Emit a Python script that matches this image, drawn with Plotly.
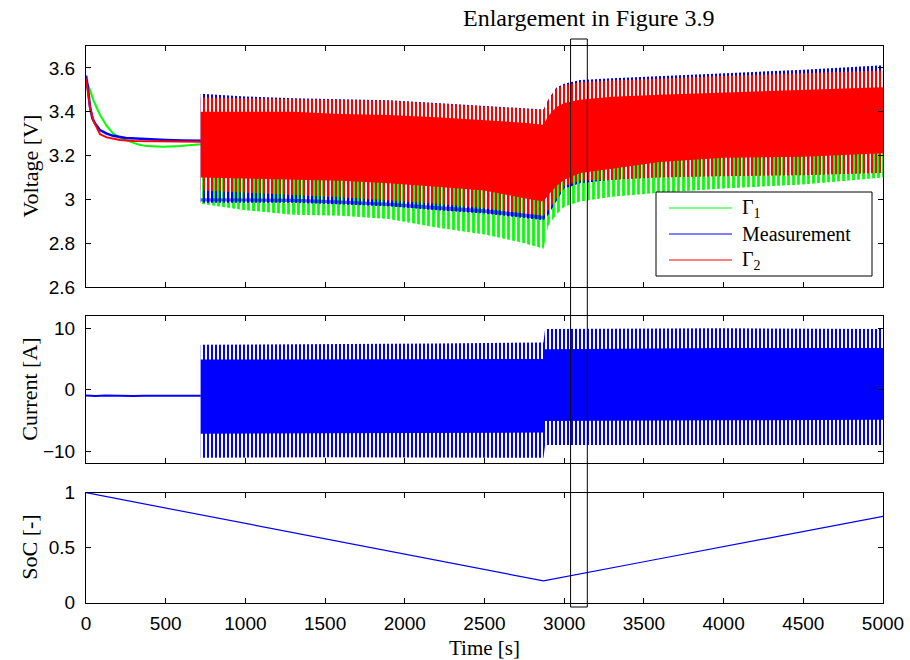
import plotly.graph_objects as go

# ---------------- data ----------------
# Rest phase voltage (0-720 s)
rest_t_g1 = [0, 25, 46, 88, 130, 171, 220, 276, 330, 380, 485, 590, 660, 720]
rest_v_g1 = [3.54, 3.50, 3.453, 3.385, 3.335, 3.30, 3.278, 3.263, 3.25, 3.243, 3.24, 3.243, 3.248, 3.252]
rest_t_meas = [0, 10, 25, 40, 56, 88, 130, 170, 250, 380, 500, 600, 694, 720]
rest_v_meas = [3.565, 3.52, 3.423, 3.37, 3.347, 3.316, 3.30, 3.29, 3.28, 3.274, 3.271, 3.269, 3.268, 3.268]
rest_t_g2 = [0, 10, 25, 46, 88, 130, 170, 213, 300, 450, 600, 720]
rest_v_g2 = [3.552, 3.50, 3.42, 3.36, 3.297, 3.283, 3.276, 3.271, 3.266, 3.264, 3.263, 3.263]

# Oscillating phase (720-5000 s): envelopes at knot times
osc_t = [720, 1000, 1300, 1600, 1900, 2200, 2500, 2750, 2870, 2900, 2950, 3000, 3100, 3300, 3600, 4000, 4500, 5000]
g2_hi = [3.465, 3.462, 3.458, 3.455, 3.450, 3.437, 3.425, 3.412, 3.408, 3.45, 3.505, 3.522, 3.535, 3.543, 3.550, 3.563, 3.576, 3.588]
g2_core_hi = [3.40, 3.40, 3.40, 3.39, 3.385, 3.375, 3.36, 3.35, 3.34, 3.38, 3.42, 3.44, 3.455, 3.468, 3.478, 3.488, 3.50, 3.512]
g2_core_lo = [3.10, 3.095, 3.09, 3.085, 3.074, 3.058, 3.04, 3.005, 2.99, 3.02, 3.06, 3.09, 3.12, 3.14, 3.17, 3.19, 3.195, 3.21]
g2_lo = [3.04, 3.03, 3.02, 3.01, 2.995, 2.98, 2.96, 2.935, 2.925, 2.95, 3.0, 3.06, 3.085, 3.09, 3.10, 3.105, 3.11, 3.12]
meas_hi = [3.482, 3.47, 3.462, 3.458, 3.452, 3.44, 3.428, 3.415, 3.41, 3.455, 3.51, 3.528, 3.545, 3.553, 3.562, 3.575, 3.592, 3.612]
meas_lo = [2.985, 2.985, 2.985, 2.977, 2.968, 2.95, 2.935, 2.915, 2.905, 2.93, 2.99, 3.05, 3.073, 3.09, 3.105, 3.12, 3.13, 3.14]
g1_hi = [3.35, 3.35, 3.35, 3.34, 3.33, 3.32, 3.31, 3.30, 3.29, 3.33, 3.38, 3.40, 3.42, 3.43, 3.44, 3.45, 3.46, 3.47]
g1_lo = [2.98, 2.95, 2.93, 2.925, 2.91, 2.872, 2.84, 2.80, 2.775, 2.88, 2.93, 2.966, 2.99, 3.012, 3.03, 3.05, 3.068, 3.10]
meas_strip_t = [720, 1000, 1300, 1600, 1900, 2200, 2500, 2750, 2870]
meas_strip_top = [3.005, 3.005, 3.003, 2.995, 2.985, 2.97, 2.955, 2.935, 2.925]
meas_strip_bot = [2.99, 2.99, 2.988, 2.98, 2.97, 2.953, 2.938, 2.918, 2.908]

# Current
cur_rest_t = [0, 60, 120, 180, 240, 300, 360, 420, 480, 540, 600, 660, 720]
cur_rest_i = [-0.95, -1.05, -0.95, -1.0, -0.95, -1.02, -1.0, -1.0, -1.02, -0.98, -1.0, -1.02, -1.0]
cur_t = [720, 1500, 2200, 2870, 2880, 4000, 5000]
cur_hi = [7.3, 7.4, 7.5, 7.7, 9.9, 10.0, 9.9]
cur_core_hi = [4.9, 4.9, 5.0, 5.0, 6.6, 6.8, 6.8]
cur_core_lo = [-7.2, -7.1, -7.1, -7.0, -5.1, -5.0, -4.9]
cur_lo = [-11.1, -11.0, -11.0, -11.1, -9.0, -9.0, -9.0]

# State of charge
soc_t = [0, 720, 1500, 2200, 2870, 3500, 4200, 5000]
soc = [1.0, 0.80, 0.582, 0.387, 0.198, 0.372, 0.566, 0.785]

# Axes ticks
t_ticks = [0, 500, 1000, 1500, 2000, 2500, 3000, 3500, 4000, 4500, 5000]
v_ticks = [2.6, 2.8, 3.0, 3.2, 3.4, 3.6]
v_labels = ["2.6", "2.8", "3", "3.2", "3.4", "3.6"]
i_ticks = [-10, 0, 10]
soc_ticks = [0, 0.5, 1]
soc_labels = ["0", "0.5", "1"]
enlarge_window = [3040, 3145]

GREEN, BLUE, RED = "#00ff00", "#0000ff", "#ff0000"

fig = go.Figure()


def band(x, hi, lo):
    return list(x) + list(x)[::-1], list(hi) + list(lo)[::-1]


def add_pattern_band(x, hi, lo, color, xa, ya, size=4, solidity=0.5):
    bx, by = band(x, hi, lo)
    fig.add_trace(go.Scatter(
        x=bx, y=by, mode="lines", fill="toself", line=dict(width=0),
        fillcolor="rgba(0,0,0,0)",
        fillpattern=dict(shape="|", size=size, solidity=solidity, fgcolor=color,
                         bgcolor="rgba(0,0,0,0)", fillmode="replace"),
        xaxis=xa, yaxis=ya, hoverinfo="skip", showlegend=False))


def add_solid_band(x, hi, lo, color, xa, ya):
    bx, by = band(x, hi, lo)
    fig.add_trace(go.Scatter(
        x=bx, y=by, mode="lines", fill="toself", line=dict(width=0),
        fillcolor=color, xaxis=xa, yaxis=ya, hoverinfo="skip", showlegend=False))


# ---- Voltage panel ----
fig.add_trace(go.Scatter(x=rest_t_g1, y=rest_v_g1, mode="lines", line=dict(color=GREEN, width=2),
                         name="Γ1", xaxis="x", yaxis="y", showlegend=False))
fig.add_trace(go.Scatter(x=rest_t_meas, y=rest_v_meas, mode="lines", line=dict(color=BLUE, width=2.5),
                         name="Measurement", xaxis="x", yaxis="y", showlegend=False))
fig.add_trace(go.Scatter(x=rest_t_g2, y=rest_v_g2, mode="lines", line=dict(color=RED, width=2),
                         name="Γ2", xaxis="x", yaxis="y", showlegend=False))
add_pattern_band(osc_t, g1_hi, g1_lo, GREEN, "x", "y", size=5, solidity=0.55)
add_pattern_band(osc_t, meas_hi, meas_lo, BLUE, "x", "y", size=4, solidity=0.5)
add_pattern_band(meas_strip_t, meas_strip_top, meas_strip_bot, BLUE, "x", "y", size=4, solidity=0.8)
add_pattern_band(osc_t, g2_hi, g2_lo, RED, "x", "y", size=4, solidity=0.5)
add_solid_band(osc_t, g2_core_hi, g2_core_lo, RED, "x", "y")

# ---- Current panel ----
fig.add_trace(go.Scatter(x=cur_rest_t, y=cur_rest_i, mode="lines", line=dict(color=BLUE, width=2),
                         xaxis="x2", yaxis="y2", showlegend=False))
add_pattern_band(cur_t, cur_hi, cur_lo, BLUE, "x2", "y2")
add_solid_band(cur_t, cur_core_hi, cur_core_lo, BLUE, "x2", "y2")

# ---- SoC panel ----
fig.add_trace(go.Scatter(x=soc_t, y=soc, mode="lines", line=dict(color=BLUE, width=1.2),
                         xaxis="x3", yaxis="y3", showlegend=False))

W, H = 910, 660
xdom = [86 / W, 883 / W]
ydom1 = [1 - 287 / H, 1 - 46 / H]
ydom2 = [1 - 463.3 / H, 1 - 316 / H]
ydom3 = [1 - 602.7 / H, 1 - 492.7 / H]

tickfont = dict(family="Liberation Sans, Arial, sans-serif", size=19, color="black")
serif = "Liberation Serif, Times New Roman, serif"

axis_common = dict(showline=True, linecolor="black", linewidth=1, mirror="ticks",
                   ticks="inside", ticklen=5, tickcolor="black", tickwidth=1,
                   showgrid=False, zeroline=False, tickfont=tickfont)

xcommon = dict(axis_common, range=[0, 5000], tickvals=t_ticks, domain=xdom)

fig.update_layout(
    width=W, height=H, autosize=False,
    margin=dict(l=0, r=0, t=0, b=0, autoexpand=False),
    paper_bgcolor="white", plot_bgcolor="white",
    showlegend=False,
    xaxis=dict(xcommon, anchor="y", showticklabels=False),
    xaxis2=dict(xcommon, anchor="y2", showticklabels=False),
    xaxis3=dict(xcommon, anchor="y3", showticklabels=True, ticklabelstandoff=3),
    yaxis=dict(axis_common, domain=ydom1, range=[2.6, 3.7], tickvals=v_ticks, ticktext=v_labels,
               anchor="x", ticklabelstandoff=6),
    yaxis2=dict(axis_common, domain=ydom2, range=[-12, 12], tickvals=i_ticks,
                anchor="x2", ticklabelstandoff=6),
    yaxis3=dict(axis_common, domain=ydom3, range=[0, 1], tickvals=soc_ticks, ticktext=soc_labels,
                anchor="x3", ticklabelstandoff=6),
)

# Axis titles
for txt, dom in [("Voltage [V]", ydom1), ("Current [A]", ydom2), ("SoC [-]", ydom3)]:
    fig.add_annotation(text=txt, xref="paper", yref="paper", x=30 / W, y=(dom[0] + dom[1]) / 2,
                       textangle=-90, showarrow=False, xanchor="center", yanchor="middle",
                       font=dict(family=serif, size=22, color="black"))
fig.add_annotation(text="Time [s]", xref="paper", yref="paper", x=(xdom[0] + xdom[1]) / 2,
                   y=1 - 648 / H, showarrow=False, xanchor="center", yanchor="middle",
                   font=dict(family=serif, size=21, color="black"))

# Enlargement rectangle + label
fig.add_shape(type="rect", xref="x", yref="paper", x0=enlarge_window[0], x1=enlarge_window[1],
              y0=1 - 607 / H, y1=1 - 39 / H, line=dict(color="black", width=1),
              fillcolor="rgba(0,0,0,0)", layer="above")
fig.add_annotation(text="Enlargement in Figure 3.9", xref="paper", yref="paper",
                   x=589 / W, y=1 - 18 / H,
                   showarrow=False, xanchor="center", yanchor="middle",
                   font=dict(family=serif, size=24, color="black"))

# Custom legend box
fig.add_shape(type="rect", xref="paper", yref="paper", x0=656 / W, x1=872 / W,
              y0=1 - 276 / H, y1=1 - 192 / H, line=dict(color="black", width=1),
              fillcolor="white", layer="above")
for name, color, ypx in [("Γ<sub>1</sub>", GREEN, 208), ("Measurement", BLUE, 234), ("Γ<sub>2</sub>", RED, 260)]:
    fig.add_shape(type="line", xref="paper", yref="paper", x0=669 / W, x1=732 / W,
                  y0=1 - ypx / H, y1=1 - ypx / H, line=dict(color=color, width=1), layer="above")
    fig.add_annotation(text=name, xref="paper", yref="paper", x=740 / W, y=1 - ypx / H,
                       showarrow=False, xanchor="left", yanchor="middle",
                       font=dict(family=serif, size=20, color="black"))

post = ("document.documentElement.style.margin='0';document.body.style.margin='0';"
        "document.body.style.padding='0';document.documentElement.style.overflow='hidden';"
        "document.body.style.overflow='hidden';"
        "var gd=document.getElementById('{plot_id}');gd.style.width='910px';gd.style.height='660px';"
        "Plotly.relayout(gd,{width:910,height:660});")

fig.write_html("out.html", post_script=post, config={"responsive": False})
